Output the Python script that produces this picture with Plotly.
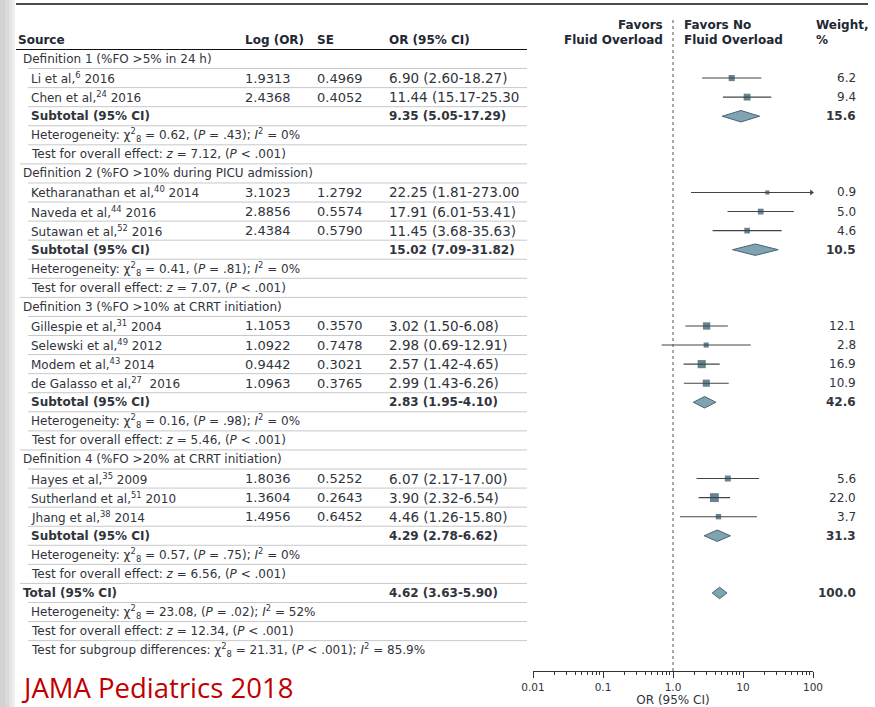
import plotly.graph_objects as go

W, H = 875, 707
ROW0, PITCH = 59.0, 19.07   # pixel centre of row 0 and row pitch
FONT = "DejaVu Sans"
TXT = "#30343c"
FS = 12          # text labels
FS_NUM = 13      # Log(OR) / SE numbers
FS_OR = 13.5     # OR (95% CI) numbers

def px(x):
    return x / W

def sup(n):
    return f"<sup>{n}</sup>"

def het(chi, p, i2):
    return (f"Heterogeneity: χ<sup>2</sup><sub>8</sub> = {chi}, (<i>P</i> = {p}); "
            f"<i>I</i><sup>2</sup> = {i2}")

def overall(z):
    return f"Test for overall effect: <i>z</i> = {z}, (<i>P</i> < .001)"

# ---------------- table data ----------------
row_labels = [
    "Definition 1 (%FO >5% in 24 h)",
    f"Li et al,{sup(6)} 2016",
    f"Chen et al,{sup(24)} 2016",
    "Subtotal (95% CI)",
    het("0.62", ".43", "0%"),
    overall("7.12"),
    "Definition 2 (%FO >10% during PICU admission)",
    f"Ketharanathan et al,{sup(40)} 2014",
    f"Naveda et al,{sup(44)} 2016",
    f"Sutawan et al,{sup(52)} 2016",
    "Subtotal (95% CI)",
    het("0.41", ".81", "0%"),
    overall("7.07"),
    "Definition 3 (%FO >10% at CRRT initiation)",
    f"Gillespie et al,{sup(31)} 2004",
    f"Selewski et al,{sup(49)} 2012",
    f"Modem et al,{sup(43)} 2014",
    f"de Galasso et al,{sup(27)}  2016",
    "Subtotal (95% CI)",
    het("0.16", ".98", "0%"),
    overall("5.46"),
    "Definition 4 (%FO >20% at CRRT initiation)",
    f"Hayes et al,{sup(35)} 2009",
    f"Sutherland et al,{sup(51)} 2010",
    f"Jhang et al,{sup(38)} 2014",
    "Subtotal (95% CI)",
    het("0.57", ".75", "0%"),
    overall("6.56"),
    "Total (95% CI)",
    het("23.08", ".02", "52%"),
    overall("12.34"),
    "Test for subgroup differences: χ<sup>2</sup><sub>8</sub> = 21.31, (<i>P</i> < .001); "
    "<i>I</i><sup>2</sup> = 85.9%",
]
row_kinds = ["group", "study", "study", "sub", "stat", "stat",
             "group", "study", "study", "study", "sub", "stat", "stat",
             "group", "study", "study", "study", "study", "sub", "stat", "stat",
             "group", "study", "study", "study", "sub", "stat", "stat",
             "total", "stat", "stat", "stat"]
log_or_text = ["", "1.9313", "2.4368", "", "", "",
               "", "3.1023", "2.8856", "2.4384", "", "", "",
               "", "1.1053", "1.0922", "0.9442", "1.0963", "", "", "",
               "", "1.8036", "1.3604", "1.4956", "", "", "",
               "", "", "", ""]
se_text = ["", "0.4969", "0.4052", "", "", "",
           "", "1.2792", "0.5574", "0.5790", "", "", "",
           "", "0.3570", "0.7478", "0.3021", "0.3765", "", "", "",
           "", "0.5252", "0.2643", "0.6452", "", "", "",
           "", "", "", ""]
or_text = ["", "6.90 (2.60-18.27)", "11.44 (15.17-25.30", "9.35 (5.05-17.29)", "", "",
           "", "22.25 (1.81-273.00", "17.91 (6.01-53.41)", "11.45 (3.68-35.63)", "15.02 (7.09-31.82)", "", "",
           "", "3.02 (1.50-6.08)", "2.98 (0.69-12.91)", "2.57 (1.42-4.65)", "2.99 (1.43-6.26)", "2.83 (1.95-4.10)", "", "",
           "", "6.07 (2.17-17.00)", "3.90 (2.32-6.54)", "4.46 (1.26-15.80)", "4.29 (2.78-6.62)", "", "",
           "4.62 (3.63-5.90)", "", "", ""]
weight_text = ["", "6.2", "9.4", "15.6", "", "",
               "", "0.9", "5.0", "4.6", "10.5", "", "",
               "", "12.1", "2.8", "16.9", "10.9", "42.6", "", "",
               "", "5.6", "22.0", "3.7", "31.3", "", "",
               "100.0", "", "", ""]

# ---------------- plotted values ----------------
study_rows = [1, 2, 7, 8, 9, 14, 15, 16, 17, 22, 23, 24]
study_or = [6.90, 11.44, 22.25, 17.91, 11.45, 3.02, 2.98, 2.57, 2.99, 6.07, 3.90, 4.46]
study_lo = [2.60, 5.17, 1.81, 6.01, 3.68, 1.50, 0.69, 1.42, 1.43, 2.17, 2.32, 1.26]
study_hi = [18.27, 25.30, 273.00, 53.41, 35.63, 6.08, 12.91, 4.65, 6.26, 17.00, 6.54, 15.80]
study_w = [6.2, 9.4, 0.9, 5.0, 4.6, 12.1, 2.8, 16.9, 10.9, 5.6, 22.0, 3.7]

pooled_rows = [3, 10, 18, 25, 28]
pooled_or = [9.35, 15.02, 2.83, 4.29, 4.62]
pooled_lo = [5.05, 7.09, 1.95, 2.78, 3.63]
pooled_hi = [17.29, 31.82, 4.10, 6.62, 5.90]

x_ticks = [0.01, 0.1, 1, 10, 100]
x_ticktext = ["0.01", "0.1", "1.0", "10", "100"]

# ---------------- figure ----------------
XMAX = 100
fig = go.Figure()

cx, cy = [], []
for r, lo, hi in zip(study_rows, study_lo, study_hi):
    cx += [lo, min(hi, XMAX), None]
    cy += [r, r, None]
fig.add_trace(go.Scatter(x=cx, y=cy, mode="lines", line=dict(color="#444", width=1.1),
                         hoverinfo="skip", showlegend=False))

arr = [r for r, hi in zip(study_rows, study_hi) if hi > XMAX]
if arr:
    fig.add_trace(go.Scatter(x=[XMAX * 0.95] * len(arr), y=arr, mode="markers",
                             marker=dict(symbol="triangle-right", size=5, color="#444"),
                             cliponaxis=False, hoverinfo="skip", showlegend=False))

fig.add_trace(go.Scatter(x=study_or, y=study_rows, mode="markers",
                         marker=dict(symbol="square", color="#27505e",
                                     size=[3 + 1.25 * w ** 0.5 for w in study_w],
                                     line=dict(width=0)),
                         hoverinfo="skip", showlegend=False))

HH = 0.3
for r, o, lo, hi in zip(pooled_rows, pooled_or, pooled_lo, pooled_hi):
    fig.add_trace(go.Scatter(x=[lo, o, hi, o, lo], y=[r, r - HH, r, r + HH, r],
                             mode="lines", fill="toself", fillcolor="#7fa3b2",
                             line=dict(color="#4b6570", width=1),
                             hoverinfo="skip", showlegend=False))

ann = []
def A(x, y, text, anchor="left", size=FS, bold=False, color=TXT, yref="y", yanchor="middle", family=FONT):
    if bold:
        text = f"<b>{text}</b>"
    ann.append(dict(x=x, y=y, xref="paper", yref=yref, text=text, showarrow=False,
                    xanchor=anchor, yanchor=yanchor, borderpad=0,
                    font=dict(family=family, size=size, color=color)))

HDR = "#222733"
A(px(17), -1, "Source", bold=True, color=HDR)
A(px(244), -1, "Log (OR)", bold=True, color=HDR)
A(px(316), -1, "SE", bold=True, color=HDR)
A(px(388), -1, "OR (95% CI)", bold=True, color=HDR)
A(px(664), -1.8, "Favors", anchor="right", bold=True, color=HDR)
A(px(664), -1, "Fluid Overload", anchor="right", bold=True, color=HDR)
A(px(683), -1.8, "Favors No", bold=True, color=HDR)
A(px(683), -1, "Fluid Overload", bold=True, color=HDR)
A(px(815), -1.8, "Weight,", bold=True, color=HDR)
A(px(815), -1, "%", bold=True, color=HDR)

for i, (lab, kind) in enumerate(zip(row_labels, row_kinds)):
    bold = kind in ("sub", "total")
    xl = 22 if kind in ("group", "total") else 30
    A(px(xl), i, lab, bold=bold)
    if log_or_text[i]:
        A(px(244), i, log_or_text[i], size=FS_NUM)
    if se_text[i]:
        A(px(316), i, se_text[i], size=FS_NUM)
    if or_text[i]:
        A(px(388), i, or_text[i], bold=bold, size=FS if bold else FS_OR)
    if weight_text[i]:
        A(px(857), i, weight_text[i], anchor="right", bold=bold)

A(px(20), 0.0, "JAMA Pediatrics 2018", size=27.5, color="#c00000", yref="paper",
  yanchor="bottom", family="Open Sans")

shapes = []
for x0, x1, c in [(0, 5, "#d2d2d2"), (5, 9, "#dadada"), (9, 12, "#e4e4e4"), (12, 15, "#efefef")]:
    shapes.append(dict(type="rect", xref="paper", yref="paper", x0=px(x0), x1=px(x1), y0=0, y1=1,
                       fillcolor=c, line=dict(width=0), layer="below"))
shapes.append(dict(type="line", xref="paper", yref="paper", x0=px(16), x1=px(868),
                   y0=1 - 4 / H, y1=1 - 4 / H, line=dict(color="#111", width=1.3)))
shapes.append(dict(type="line", xref="paper", yref="y", x0=px(16), x1=px(527),
                   y0=-0.5, y1=-0.5, line=dict(color="#111", width=1.1)))
for i in range(len(row_labels) - 1):
    nxt = row_kinds[i + 1]
    x0 = 20 if nxt in ("group", "total") else 28
    shapes.append(dict(type="line", xref="paper", yref="y", x0=px(x0), x1=px(527),
                       y0=i + 0.5, y1=i + 0.5, line=dict(color="#c8c8c8", width=1)))
shapes.append(dict(type="line", xref="x", yref="paper", x0=1, x1=1,
                   y0=(H - 671) / H, y1=(H - 17) / H, line=dict(color="#555", width=1, dash="dot")))

y_top = -ROW0 / PITCH
y_bot = (H - ROW0) / PITCH
minor_vals = [m * d for d in (0.01, 0.1, 1, 10) for m in range(2, 10)]

fig.update_layout(
    width=W, height=H, autosize=False,
    margin=dict(l=0, r=0, t=0, b=0, pad=0, autoexpand=False),
    paper_bgcolor="white", plot_bgcolor="rgba(0,0,0,0)",
    showlegend=False, annotations=ann, shapes=shapes,
    xaxis=dict(type="log", range=[-2, 2], domain=[533 / W, 813 / W],
               anchor="free", position=(H - 671) / H, automargin=False,
               showline=True, linecolor="#333", linewidth=1,
               ticks="outside", ticklen=6, tickcolor="#333", tickwidth=1,
               tickvals=x_ticks, ticktext=x_ticktext,
               minor=dict(ticks="outside", ticklen=3, tickcolor="#333", tickvals=minor_vals, showgrid=False),
               showgrid=False, zeroline=False,
               tickfont=dict(family=FONT, size=10.5, color=TXT),
               title=dict(text="OR (95% CI)", font=dict(family=FONT, size=12, color=TXT), standoff=1)),
    yaxis=dict(range=[y_bot, y_top], domain=[0, 1], visible=False, automargin=False,
               showgrid=False, zeroline=False),
)

fig.write_html("out.html", config={"responsive": False, "displayModeBar": False},
               post_script="document.body.style.margin='0';document.body.style.overflow='hidden';")
